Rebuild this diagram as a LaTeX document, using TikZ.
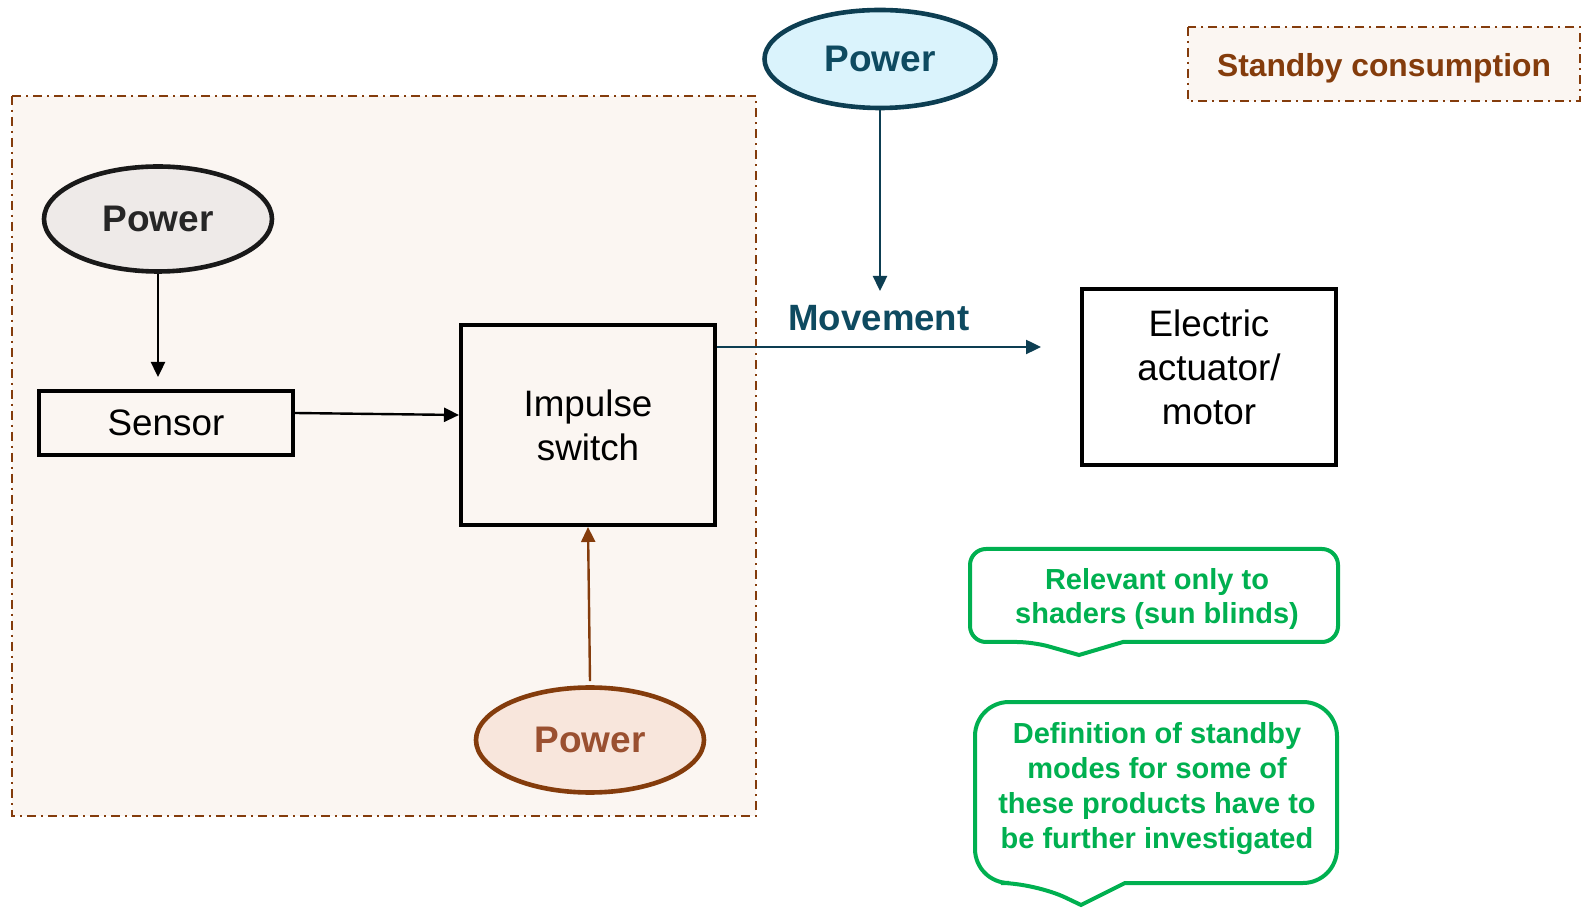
\documentclass[tikz,border=0pt]{standalone}
\usepackage{fontspec}
\setmainfont{Liberation Sans}
\usetikzlibrary{shapes.geometric,arrows.meta}
\definecolor{brownline}{HTML}{843C0C}
\definecolor{browntext}{HTML}{9A5030}
\definecolor{brownfill}{HTML}{F8E6DC}
\definecolor{zonefill}{HTML}{FBF6F2}
\definecolor{tealline}{HTML}{0D3E52}
\definecolor{tealtext}{HTML}{0E4A60}
\definecolor{cyanfill}{HTML}{DAF3FC}
\definecolor{greyfill}{HTML}{EEEAE8}
\definecolor{greytext}{HTML}{262626}
\definecolor{notegreen}{HTML}{00B050}

\begin{document}
\begin{tikzpicture}[x=0.5pt,y=-0.5pt,
  zone/.style={draw=brownline, fill=zonefill, line width=1.3pt,
    dash pattern=on 4.5pt off 2.5pt on 1pt off 2.5pt},
  blockbox/.style={draw=black, line width=2pt, inner sep=0pt, align=center,
    font=\fontsize{18.4}{22}\selectfont},
  powerell/.style={ellipse, line width=2.3pt, inner sep=0pt,
    minimum width=114pt, minimum height=52.5pt,
    font=\fontsize{18.5}{22}\selectfont\bfseries},
  arr/.style={-{Triangle[length=7.5pt,width=7pt]}, line width=1.2pt},
  note/.style={draw=notegreen, line width=2pt, fill=white},
  notetext/.style={text=notegreen, align=center,
    font=\fontsize{14.5}{17.3}\selectfont\bfseries}
]
\useasboundingbox (0,0) rectangle (1585,908);

% standby zone and its legend
\draw[zone] (12,96) rectangle (756,816);
\draw[zone] (1188,27) rectangle (1580,101);
\node[text=brownline, font=\fontsize{15.9}{19}\selectfont\bfseries] (legend) at (1384,68) {Standby consumption};

% power sources
\node[powerell, draw=tealline, fill=cyanfill, text=tealtext,
  minimum width=115.5pt, minimum height=49pt] (ptop) at (880,59) {Power};
\node[powerell, draw=black!90, fill=greyfill, text=greytext] (pleft) at (158,219) {Power};
\node[powerell, draw=brownline, fill=brownfill, text=browntext] (pbot) at (590,740) {Power};

% blocks
\node[blockbox, minimum width=127pt, minimum height=32pt] (sensor) at (166,423) {Sensor};
\node[blockbox, minimum width=127pt, minimum height=100pt] (imp) at (588,425) {Impulse\\switch};
\node[blockbox, fill=white, minimum width=127pt, minimum height=88pt] (act) at (1209,377) {};
\node[align=center, font=\fontsize{18.4}{22}\selectfont] (acttext) at (1209,367) {Electric\\actuator/\\motor};

% connectors
\draw[arr, shorten >=6pt] (pleft.south) -- (pleft.south |- sensor.north);
\draw[arr] ([yshift=5pt]sensor.east) -- ([yshift=5pt]imp.west);
\draw[arr, draw=brownline, fill=brownline] ([yshift=2pt]pbot.north) -- (imp.south);
\coordinate (mvtip) at (880,291);
\draw[arr, draw=tealline, fill=tealline] (ptop.south) -- (mvtip);
\coordinate (mvend) at (1041,347);
\draw[arr, draw=tealline, fill=tealline] (imp.east |- mvend) -- (mvend);
\node[text=tealtext, font=\fontsize{18.3}{22}\selectfont\bfseries] (mvlabel) at (879,318) {Movement};

% notes
\draw[note] (1123,642) [rounded corners=8pt] -- (1338,642) -- (1338,549) -- (970,549)
  -- (970,642) -- (1033,642) [sharp corners] -- (1079,655) -- cycle;
\node[notetext] (note1) at (1157,599) {Relevant only to\\shaders (sun blinds)};
\draw[note] (1125,883) [rounded corners=17pt] -- (1337,883) -- (1337,702) -- (975,702)
  -- (975,883) -- (1035,883) [sharp corners] -- (1081,905) -- cycle;
\node[notetext, font=\fontsize{14.5}{17.5}\selectfont\bfseries] (note2) at (1157,789)
  {Definition of standby\\modes for some of\\these products have to\\be further investigated};
\end{tikzpicture}
\end{document}
